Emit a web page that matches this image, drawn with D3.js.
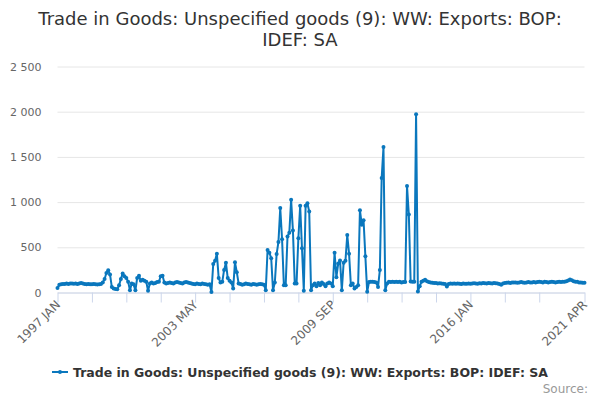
<!DOCTYPE html>
<html>
<head>
<meta charset="utf-8">
<script src="https://cdn.jsdelivr.net/npm/d3@7"></script>
<style>
  body { margin: 0; background: #fff; }
  svg { display: block; font-family: "DejaVu Sans", sans-serif; }
</style>
</head>
<body>
<div id="chart-wrap"></div>
<script>
const titleLines = ["Trade in Goods: Unspecified goods (9): WW: Exports: BOP:", "IDEF: SA"];
const seriesName = "Trade in Goods: Unspecified goods (9): WW: Exports: BOP: IDEF: SA";
const sourceText = "Source:";

// one label per month, 1997 JAN .. 2021 APR
const months = d3.timeMonth.range(new Date(1997, 0, 1), new Date(2021, 4, 1))
  .map(d => d3.timeFormat("%Y %b")(d).toUpperCase());

// values, one row per year
const exportsValues = [
  50, 85, 90, 95, 95, 100, 95, 100, 100, 98, 100, 95,          // 1997
  100, 105, 100, 95, 92, 95, 90, 92, 95, 90, 88, 92,           // 1998
  95, 110, 150, 215, 245, 200, 60, 45, 40, 35, 80, 150,        // 1999
  210, 180, 160, 120, 25, 100, 90, 25, 160, 185, 130, 140,     // 2000
  130, 120, 20, 100, 110, 100, 105, 115, 120, 180, 185, 110,   // 2001
  100, 105, 110, 105, 100, 110, 115, 110, 105, 100, 110, 115,  // 2002
  110, 105, 100, 95, 90, 100, 95, 90, 100, 95, 90, 85,         // 2003
  90, 5, 315, 350, 430, 160, 110, 120, 250, 330, 160, 130,     // 2004
  110, 45, 335, 225, 100, 95, 85, 90, 100, 95, 90, 85,         // 2005
  95, 90, 85, 90, 95, 90, 85, 25, 470, 440, 380, 25,           // 2006
  110, 425, 560, 935, 590, 80, 80, 620, 660, 1025, 685, 100,   // 2007
  100, 600, 960, 490, 20, 960, 988, 895, 25, 80, 100, 70,      // 2008
  105, 80, 110, 95, 70, 100, 110, 100, 70, 440, 170, 320,      // 2009
  355, 25, 330, 350, 635, 430, 80, 100, 45, 60, 80, 910,       // 2010
  750, 800, 400, 7, 115, 118, 120, 115, 110, 62, 248, 1267,    // 2011
  1610, 25, 100, 120, 115, 118, 115, 120, 115, 118, 112, 115,  // 2012
  115, 1178, 862, 122, 120, 118, 1973, 10, 70, 120, 130, 140,  // 2013
  125, 115, 110, 108, 105, 105, 100, 103, 100, 98, 95, 67,     // 2014
  95, 100, 98, 100, 97, 100, 98, 95, 100, 98, 97, 100,         // 2015
  98, 100, 102, 100, 98, 103, 100, 105, 102, 100, 104, 102,    // 2016
  100, 105, 102, 100, 95, 85, 100, 105, 108, 110, 105, 110,    // 2017
  112, 110, 108, 112, 115, 110, 108, 112, 115, 112, 110, 115,  // 2018
  112, 115, 118, 115, 112, 118, 115, 112, 115, 118, 115, 112,  // 2019
  115, 118, 115, 120, 118, 125, 132, 144, 135, 125, 120, 118,  // 2020
  112, 110, 108, 107                                           // 2021
];

const yTicks = [0, 500, 1000, 1500, 2000, 2500];
const xTickLabels = ["1997 JAN", "2003 MAY", "2009 SEP", "2016 JAN", "2021 APR"];

const width = 600;
const height = 400;
const margin = {top: 66.5, right: 15.5, bottom: 107.5, left: 57.5};
const blue = "#0a77bd";

const data = months.map((m, i) => ({month: m, value: exportsValues[i]}));

const svg = d3.select("#chart-wrap")
  .append("svg")
  .attr("width", width)
  .attr("height", height);

svg.append("rect").attr("width", width).attr("height", height).attr("fill", "#fff");

// title
svg.append("text")
  .attr("x", width / 2)
  .attr("text-anchor", "middle")
  .attr("fill", "#333")
  .style("font-size", "18px")
  .selectAll("tspan")
  .data(titleLines)
  .join("tspan")
  .attr("x", width / 2)
  .attr("y", (d, i) => 25 + i * 21)
  .text(d => d);

const x = d3.scalePoint()
  .domain(months)
  .range([margin.left, width - margin.right]);

const y = d3.scaleLinear()
  .domain([0, 2500])
  .range([height - margin.bottom, margin.top]);

const fmt = d3.formatLocale({decimal: ".", thousands: " ", grouping: [3], currency: ["", ""]}).format(",");

// Y axis + grid
const yAxis = svg.append("g")
  .attr("transform", "translate(" + margin.left + ",0)")
  .call(d3.axisLeft(y)
    .tickValues(yTicks)
    .tickSize(-(width - margin.left - margin.right))
    .tickPadding(16)
    .tickFormat(fmt));
yAxis.select(".domain").remove();
yAxis.selectAll(".tick line").attr("stroke", "#e6e6e6");
yAxis.selectAll(".tick text")
  .attr("fill", "#666")
  .style("font-size", "11px")
  .style("font-family", "DejaVu Sans, sans-serif");

// X axis: a tick every 19 months, plus the last month
const last = months.length - 1;
const xTicks = months.filter((m, i) => i % 19 === 0 && last - i > 10).concat([months[last]]);

const xAxis = svg.append("g")
  .attr("transform", "translate(0," + (height - margin.bottom) + ")")
  .call(d3.axisBottom(x)
    .tickValues(xTicks)
    .tickSize(10)
    .tickSizeOuter(0)
    .tickFormat(d => xTickLabels.includes(d) ? d : ""));
xAxis.select(".domain").attr("stroke", "#ccd6eb");
xAxis.selectAll(".tick line").attr("stroke", "#ccd6eb");
xAxis.selectAll(".tick text")
  .attr("fill", "#666")
  .style("font-size", "12px")
  .style("font-family", "DejaVu Sans, sans-serif")
  .attr("text-anchor", "end")
  .attr("x", 0)
  .attr("y", 0)
  .attr("dy", 0)
  .attr("transform", "translate(3,13) rotate(-45)");

// the line
svg.append("path")
  .datum(data)
  .attr("fill", "none")
  .attr("stroke", blue)
  .attr("stroke-width", 2)
  .attr("stroke-linejoin", "round")
  .attr("d", d3.line()
    .x(d => x(d.month))
    .y(d => y(d.value)));

svg.append("g")
  .selectAll("circle")
  .data(data)
  .join("circle")
  .attr("cx", d => x(d.month))
  .attr("cy", d => y(d.value))
  .attr("r", 2)
  .attr("fill", blue);

// legend
const legend = svg.append("g");
legend.append("line")
  .attr("x1", 0).attr("x2", 16)
  .attr("y1", 0).attr("y2", 0)
  .attr("stroke", blue).attr("stroke-width", 2);
legend.append("circle")
  .attr("cx", 8).attr("cy", 0).attr("r", 2).attr("fill", blue);
const legendText = legend.append("text")
  .attr("x", 21)
  .attr("y", 4.5)
  .attr("fill", "#333")
  .style("font-size", "12.5px")
  .style("font-weight", "bold")
  .text(seriesName);
const legendWidth = 21 + legendText.node().getComputedTextLength();
legend.attr("transform", "translate(" + ((width - legendWidth) / 2) + ",372)");

// source credit
svg.append("text")
  .attr("x", 588)
  .attr("y", 393)
  .attr("text-anchor", "end")
  .attr("fill", "#999")
  .style("font-size", "12px")
  .text(sourceText);
</script>
</body>
</html>
